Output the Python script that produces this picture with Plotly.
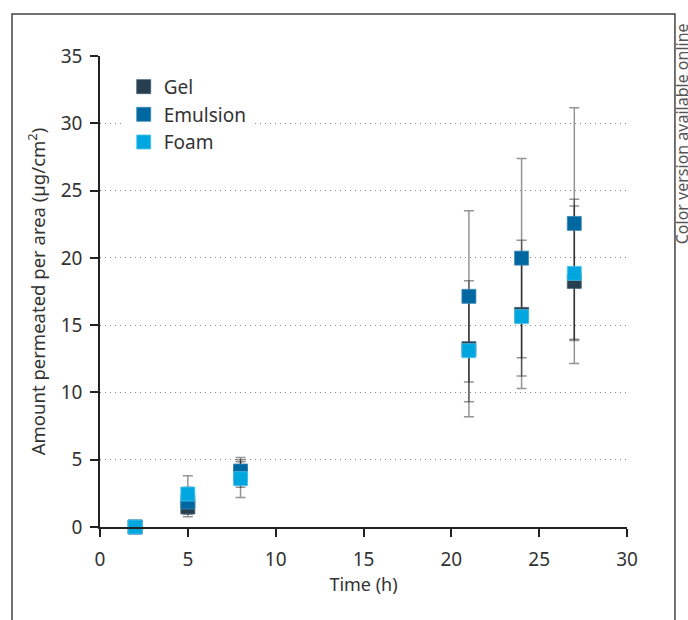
import plotly.graph_objects as go

time_h = [2, 5, 8, 21, 24, 27]

gel = [0, 1.49, 3.9, 13.25, 15.8, 18.25]
gel_err = [0, 0.55, 0.95, 5.05, 5.5, 6.1]

emulsion = [0, 1.86, 4.16, 17.14, 19.98, 22.56]
emulsion_err = [0, 1.1, 1.0, 6.36, 7.4, 8.6]

foam = [0, 2.45, 3.59, 13.1, 15.63, 18.85]
foam_err = [0, 1.35, 1.4, 3.8, 4.4, 5.0]

series = [
    ("Gel", gel, gel_err, "#263f50", "#4a6070"),
    ("Emulsion", emulsion, emulsion_err, "#0068a0", "#3a88b8"),
    ("Foam", foam, foam_err, "#00a6e0", "#50c4ee"),
]

FONT = "Noto Sans"
fig = go.Figure()

# error bars first (under all markers)
for name, vals, errs, col, edge in series:
    fig.add_trace(go.Scatter(
        x=time_h, y=vals, mode="markers",
        marker=dict(size=1, opacity=0),
        error_y=dict(type="data", array=errs, visible=True,
                     color="rgba(0,0,0,0.42)", thickness=1.5, width=5),
        showlegend=False, hoverinfo="skip", cliponaxis=False,
    ))

for name, vals, errs, col, edge in series:
    fig.add_trace(go.Scatter(
        x=time_h, y=vals, mode="markers", name=name,
        marker=dict(symbol="square", size=14, color=col,
                    line=dict(color=edge, width=0.8)),
        cliponaxis=False,
    ))

fig.update_layout(
    width=688, height=620,
    margin=dict(l=100, r=61, t=56, b=93),
    paper_bgcolor="white", plot_bgcolor="white",
    font=dict(family=FONT, size=19, color="#333"),
    showlegend=True,
    legend=dict(x=0.045, y=0.975, xanchor="left", yanchor="top",
                bgcolor="white", font=dict(size=19, color="#333"),
                itemwidth=30, tracegroupgap=0),
    xaxis=dict(range=[0, 30], dtick=5, showgrid=False, zeroline=False,
               showline=True, linecolor="#222", linewidth=1.5,
               ticks="outside", ticklen=8, tickwidth=1.5, tickcolor="#222",
               ticklabelstandoff=6,
               title=dict(text="Time (h)", standoff=8,
                          font=dict(size=18, color="#333"))),
    yaxis=dict(range=[0, 35], dtick=5, showgrid=True, gridcolor="#888",
               griddash="1px,4px", gridwidth=1, zeroline=False,
               showline=True, linecolor="#222", linewidth=1.5,
               ticks="outside", ticklen=8, tickwidth=1.5, tickcolor="#222",
               ticklabelstandoff=4,
               title=dict(text="Amount permeated per area (µg/cm<sup>2</sup>)",
                          standoff=10, font=dict(size=18.5, color="#333"))),
)

# outer frame
fig.add_shape(type="rect", xref="paper", yref="paper",
              x0=-0.167, x1=1.091, y0=-0.25, y1=1.089,
              line=dict(color="#444", width=1.5), fillcolor="rgba(0,0,0,0)",
              layer="below")

fig.add_annotation(text="Color version available online", xref="paper", yref="paper",
                   x=1.1044, y=0.595, textangle=-90, showarrow=False,
                   font=dict(family=FONT, size=16, color="#555"),
                   xanchor="center", yanchor="bottom")

fig.write_html("out.html", config={"displayModeBar": False},
               post_script="document.body.style.margin='0';document.body.style.overflow='hidden';")
